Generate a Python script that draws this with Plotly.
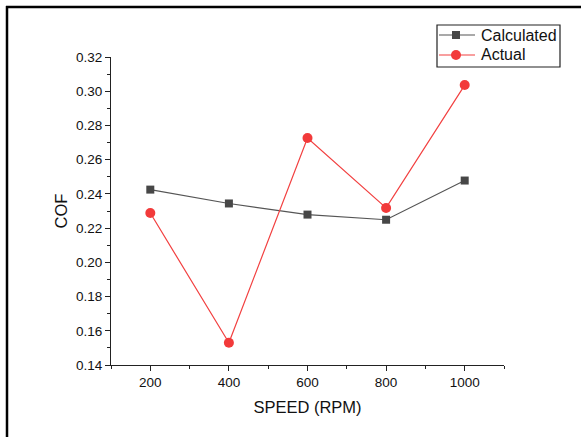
import plotly.graph_objects as go

speed = [200, 400, 600, 800, 1000]
calculated = [0.2425, 0.2344, 0.2279, 0.2249, 0.2478]
actual = [0.2288, 0.1530, 0.2727, 0.2318, 0.3036]
series_names = ["Calculated", "Actual"]

FONT = "Liberation Sans, Arial, sans-serif"
GRAY_LINE, GRAY_MARK = "#555555", "#474747"
RED_LINE, RED_MARK = "#f24040", "#f23a3a"

fig = go.Figure()
fig.add_trace(go.Scatter(
    x=speed, y=calculated, name=series_names[0], mode="lines+markers",
    line=dict(color=GRAY_LINE, width=1.2),
    marker=dict(symbol="square", size=8, color=GRAY_MARK),
))
fig.add_trace(go.Scatter(
    x=speed, y=actual, name=series_names[1], mode="lines+markers",
    line=dict(color=RED_LINE, width=1.2),
    marker=dict(symbol="circle", size=10, color=RED_MARK),
))

L, R, T, B = 111, 77, 57, 72
W, H = 581, 437
pw, ph = W - L - R, H - T - B

def px(xpix):
    return (xpix - L) / pw

def py(ypix):
    return 1 - (ypix - T) / ph

# hand-drawn legend (matches the compact Origin-style legend box)
shapes = [
    dict(type="line", xref="paper", yref="paper",
         x0=px(7), x1=px(7), y0=py(6), y1=py(440),
         line=dict(color="black", width=2.5)),
    dict(type="line", xref="paper", yref="paper",
         x0=px(6), x1=px(590), y0=py(7), y1=py(7),
         line=dict(color="black", width=2.5)),
    dict(type="rect", xref="paper", yref="paper",
         x0=px(437), x1=px(560), y0=py(25), y1=py(67),
         line=dict(color="#222222", width=1.2), fillcolor="white"),
]
annotations = []
leg_rows = [(35, GRAY_LINE, GRAY_MARK, "rect", 4), (55, RED_LINE, RED_MARK, "circle", 5)]
for name, (yy, lc, mc, kind, r) in zip(series_names, leg_rows):
    shapes.append(dict(type="line", xref="paper", yref="paper",
                       x0=px(439), x1=px(475), y0=py(yy), y1=py(yy),
                       line=dict(color=lc, width=1.2)))
    shapes.append(dict(type=kind, xref="paper", yref="paper",
                       x0=px(456 - r), x1=px(456 + r), y0=py(yy - r), y1=py(yy + r),
                       line=dict(color=mc, width=0), fillcolor=mc))
    annotations.append(dict(xref="paper", yref="paper", x=px(479), y=py(yy),
                            xanchor="left", yanchor="middle", showarrow=False,
                            text=name, font=dict(size=16, family=FONT, color="#111111")))

fig.update_layout(
    width=W, height=H,
    margin=dict(l=L, r=R, t=T, b=B, pad=0),
    paper_bgcolor="white", plot_bgcolor="white",
    font=dict(family=FONT, color="#111111", size=13),
    showlegend=False,
    xaxis=dict(
        range=[100, 1100], tickmode="array",
        tickvals=[200, 400, 600, 800, 1000],
        ticktext=["200", "400", "600", "800", "1000"],
        ticks="outside", ticklen=5, tickwidth=1, tickcolor="#222222",
        minor=dict(tickvals=[100, 300, 500, 700, 900, 1100], ticks="outside", ticklen=3, tickwidth=1, tickcolor="#222222"),
        showline=True, linecolor="#222222", linewidth=1.2,
        showgrid=False, zeroline=False,
        tickfont=dict(size=13.5),
        title=dict(text="SPEED (RPM)", font=dict(size=16.5), standoff=12),
    ),
    yaxis=dict(
        range=[0.14, 0.32], tickmode="linear", tick0=0.14, dtick=0.02,
        tickformat=".2f",
        ticks="outside", ticklen=5, tickwidth=1, tickcolor="#222222",
        minor=dict(dtick=0.01, ticks="outside", ticklen=3, tickwidth=1, tickcolor="#222222"),
        showline=True, linecolor="#222222", linewidth=1.2,
        showgrid=False, zeroline=False,
        tickfont=dict(size=13.5),
        title=dict(text="COF", font=dict(size=16.5), standoff=4),
    ),
    shapes=shapes,
    annotations=annotations,
)

fig.write_html("out.html")
